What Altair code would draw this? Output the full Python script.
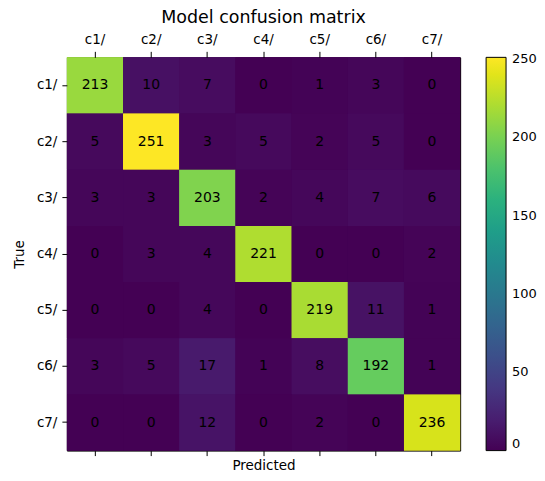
import altair as alt
import pandas as pd

classes = ["c1/", "c2/", "c3/", "c4/", "c5/", "c6/", "c7/"]
matrix = [
    [213, 10, 7, 0, 1, 3, 0],
    [5, 251, 3, 5, 2, 5, 0],
    [3, 3, 203, 2, 4, 7, 6],
    [0, 3, 4, 221, 0, 0, 2],
    [0, 0, 4, 0, 219, 11, 1],
    [3, 5, 17, 1, 8, 192, 1],
    [0, 0, 12, 0, 2, 0, 236],
]
legend_ticks = [0, 50, 100, 150, 200, 250]

rows = []
for i, t in enumerate(classes):
    for j, p in enumerate(classes):
        rows.append({"True": t, "Predicted": p, "count": matrix[i][j]})
df = pd.DataFrame(rows)

FONT = "DejaVu Sans"

x_top = alt.X("Predicted:N", sort=classes,
              scale=alt.Scale(paddingInner=0, paddingOuter=0),
              axis=alt.Axis(orient="top", title=None, labelAngle=0,
                            labelFontSize=13.5, labelPadding=5, tickSize=6,
                            domain=False, grid=False, tickColor="black",
                            labelColor="black"))
x_bot = alt.X("Predicted:N", sort=classes,
              scale=alt.Scale(paddingInner=0, paddingOuter=0),
              axis=alt.Axis(orient="bottom", title="Predicted", labels=False,
                            titleFontSize=13.5, titleFontWeight="normal",
                            titlePadding=2, tickSize=5, domain=False, grid=False,
                            tickColor="black", titleColor="black"))
y_enc = alt.Y("True:N", sort=classes,
              scale=alt.Scale(paddingInner=0, paddingOuter=0),
              axis=alt.Axis(title="True", labelFontSize=13.5, labelPadding=5,
                            tickSize=5, domain=False, grid=False,
                            titleFontSize=13.5, titleFontWeight="normal",
                            titlePadding=10, tickColor="black",
                            labelColor="black", titleColor="black"))

color_enc = alt.Color("count:Q",
                      scale=alt.Scale(scheme="viridis", domain=[0, 251]),
                      legend=alt.Legend(title=None, gradientLength=394,
                                        gradientThickness=20,
                                        values=legend_ticks,
                                        labelFontSize=13, offset=26,
                                        labelOffset=6,
                                        gradientStrokeColor="black",
                                        gradientStrokeWidth=1,
                                        labelColor="black"))

heat = alt.Chart(df).mark_rect().encode(x=x_top, y=y_enc, color=color_enc)
heat2 = alt.Chart(df).mark_rect().encode(
    x=alt.X("Predicted:N", sort=classes, axis=None),
    y=y_enc,
    color=color_enc,
)

text = alt.Chart(df).mark_text(fontSize=14, color="black", font=FONT).encode(
    x=x_bot,
    y=y_enc,
    text="count:Q",
)

chart = alt.layer(heat, heat2, text).resolve_axis(x="independent").properties(
    width=394, height=394,
    padding={"top": 0, "left": 4, "right": 0, "bottom": 0},
    title=alt.TitleParams("Model confusion matrix", fontSize=17.5,
                          fontWeight="normal", font=FONT, offset=6,
                          color="black"),
).configure(font=FONT).configure_axis(labelFont=FONT, titleFont=FONT,
                                      grid=False).configure_legend(
    labelFont=FONT
).configure_view(stroke="black", strokeWidth=1, fill="#440154")

chart.save("out.html", embed_options={"renderer": "svg", "actions": False})
